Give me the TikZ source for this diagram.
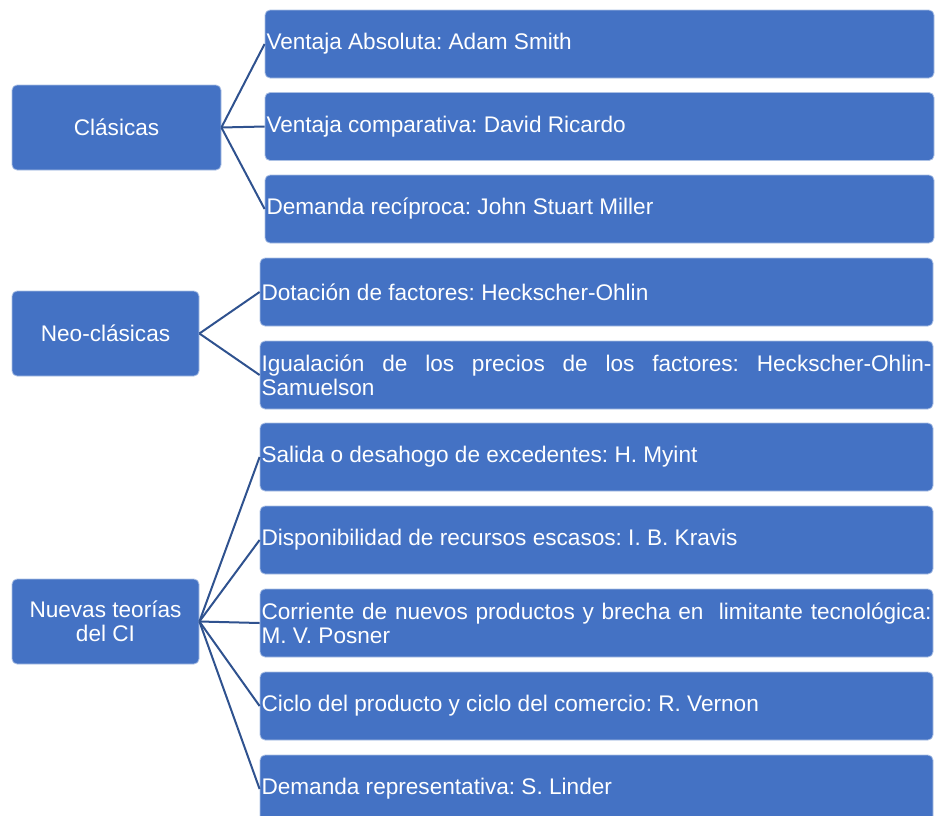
\documentclass[tikz,border=0pt]{standalone}
\usepackage{fontspec}
\setmainfont{Liberation Sans}
\definecolor{boxblue}{HTML}{4472C4}
\definecolor{linkblue}{HTML}{2F528F}
\frenchspacing

\tikzset{
    groupbox/.style={rectangle, rounded corners=5pt, fill=boxblue, draw=white!55!boxblue, line width=0.8pt,
        text=white, align=center, minimum height=85pt, inner sep=2pt,
        font=\fontsize{22.6}{24}\selectfont},
    itembox/.style={rectangle, rounded corners=5pt, fill=boxblue, draw=white!55!boxblue, line width=0.8pt,
        text=white, align=justify, minimum height=68pt, inner xsep=1.5pt, inner ysep=2pt,
        font=\fontsize{22.6}{24}\selectfont},
    link/.style={linkblue, line width=2pt}
}

\begin{document}
\begin{tikzpicture}[x=1pt,y=-1pt]
    \clip (0,0) rectangle (935,815);

    % Groups
    \node[groupbox, minimum width=209pt] (clasicas) at (116.5,127.5) {Clásicas};
    \node[groupbox, minimum width=187pt] (neo) at (105.5,333.5) {Neo-clásicas};
    \node[groupbox, minimum width=187pt] (nuevas) at (105.5,621.5) {Nuevas teorías\\del CI};

    % Clasicas
    \node[itembox, text width=666pt] (cla1) at (599.5,44) {Ventaja Absoluta: Adam Smith};
    \node[itembox, text width=666pt] (cla2) at (599.5,126.5) {Ventaja comparativa: David Ricardo};
    \node[itembox, text width=666pt] (cla3) at (599.5,209) {Demanda recíproca: John Stuart Miller};
    \foreach \i in {1,2,3} {
        \draw[link] (clasicas.east) -- (cla\i.west);
    }

    % Neo-clasicas
    \node[itembox, text width=670pt] (neo1) at (596.5,292) {Dotación de factores: Heckscher-Ohlin};
    \node[itembox, text width=670pt] (neo2) at (596.5,375) {Igualación de los precios de los factores: Heckscher-Ohlin-\linebreak Samuelson};
    \foreach \i in {1,2} {
        \draw[link] (neo.east) -- (neo\i.west);
    }

    % Nuevas teorias
    \node[itembox, text width=670pt] (nue1) at (596.5,457) {Salida o desahogo de excedentes: H. Myint};
    \node[itembox, text width=670pt] (nue2) at (596.5,540) {Disponibilidad de recursos escasos: I. B. Kravis};
    \node[itembox, text width=670pt] (nue3) at (596.5,623) {Corriente de nuevos productos y brecha en\ \ limitante tecnológica:\linebreak M. V. Posner};
    \node[itembox, text width=670pt] (nue4) at (596.5,706) {Ciclo del producto y ciclo del comercio: R. Vernon};
    \node[itembox, text width=670pt] (nue5) at (596.5,789) {Demanda representativa: S. Linder};
    \foreach \i in {1,...,5} {
        \draw[link] (nuevas.east) -- (nue\i.west);
    }
\end{tikzpicture}
\end{document}
